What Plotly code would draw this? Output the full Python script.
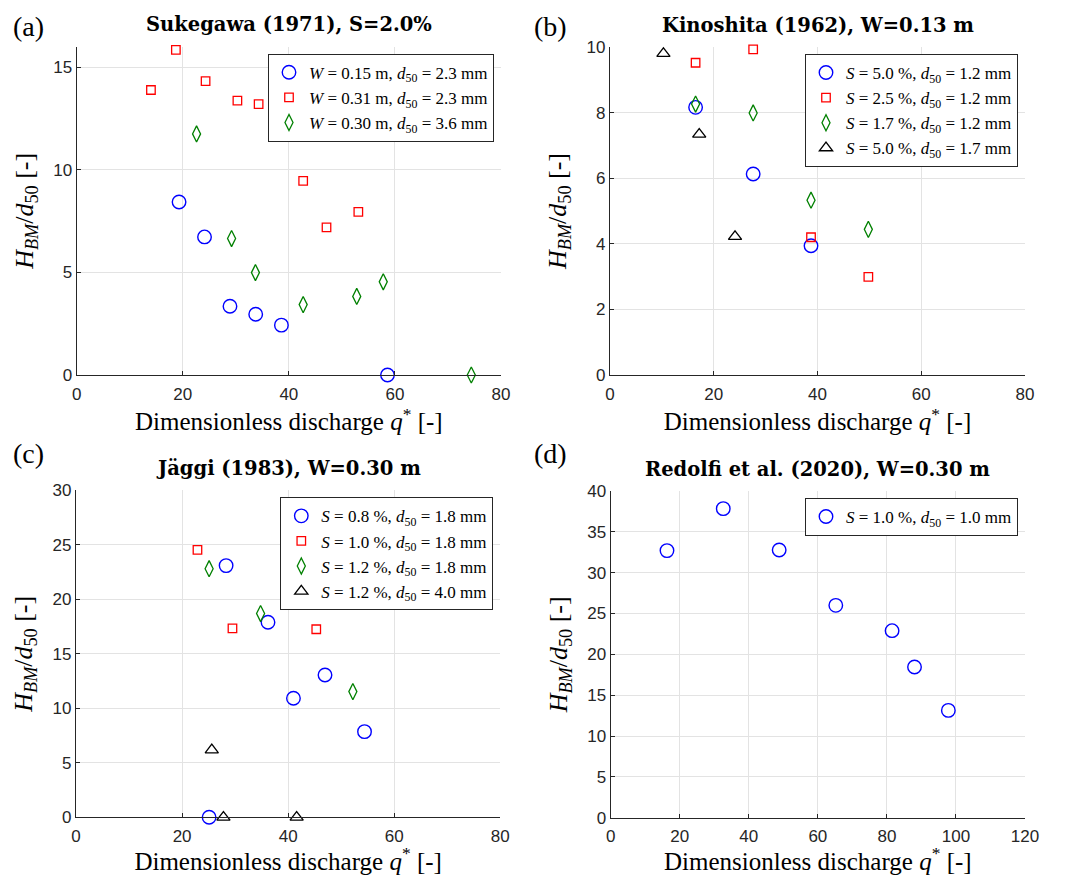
import plotly.graph_objects as go

# ---------------- data ----------------
# (a) Sukegawa (1971), S=2.0%
a_q_w015 = [19.3, 24.1, 28.9, 33.75, 38.6, 58.6]
a_h_w015 = [8.43, 6.73, 3.35, 2.96, 2.43, 0.0]
a_q_w031 = [14.0, 18.7, 24.3, 30.3, 34.3, 42.7, 47.1, 53.1]
a_h_w031 = [13.89, 15.85, 14.32, 13.37, 13.2, 9.46, 7.19, 7.95]
a_q_w030 = [22.6, 29.2, 33.7, 42.7, 52.8, 57.8, 74.4]
a_h_w030 = [11.75, 6.65, 4.99, 3.43, 3.83, 4.54, 0.0]

# (b) Kinoshita (1962), W=0.13 m
b_q_s50 = [16.5, 27.6, 38.75]
b_h_s50 = [8.16, 6.13, 3.94]
b_q_s25 = [16.5, 27.6, 38.75, 49.8]
b_h_s25 = [9.52, 9.93, 4.2, 2.99]
b_q_s17 = [16.5, 27.6, 38.75, 49.8]
b_h_s17 = [8.26, 7.99, 5.33, 4.44]
b_q_s50b = [10.3, 17.2, 24.1]
b_h_s50b = [9.8, 7.34, 4.22]

# (c) Jäggi (1983), W=0.30 m
c_q_s08 = [28.3, 36.2, 41.0, 46.95, 54.4, 25.1]
c_h_s08 = [23.09, 17.89, 10.92, 13.06, 7.86, 0.0]
c_q_s10 = [22.9, 29.5, 45.3]
c_h_s10 = [24.53, 17.34, 17.25]
c_q_s12 = [25.1, 34.8, 52.2]
c_h_s12 = [22.81, 18.69, 11.53]
c_q_s12b = [25.6, 27.8, 41.6]
c_h_s12b = [6.18, 0.0, 0.0]

# (d) Redolfi et al. (2020), W=0.30 m
d_q_s10 = [16.3, 32.6, 48.8, 65.2, 81.5, 88.0, 97.8]
d_h_s10 = [32.7, 37.84, 32.78, 26.0, 22.9, 18.45, 13.14]

# legend labels
a_labels = ["<i>W</i> = 0.15 m, <i>d</i><sub>50</sub> = 2.3 mm",
            "<i>W</i> = 0.31 m, <i>d</i><sub>50</sub> = 2.3 mm",
            "<i>W</i> = 0.30 m, <i>d</i><sub>50</sub> = 3.6 mm"]
b_labels = ["<i>S</i> = 5.0 %, <i>d</i><sub>50</sub> = 1.2 mm",
            "<i>S</i> = 2.5 %, <i>d</i><sub>50</sub> = 1.2 mm",
            "<i>S</i> = 1.7 %, <i>d</i><sub>50</sub> = 1.2 mm",
            "<i>S</i> = 5.0 %, <i>d</i><sub>50</sub> = 1.7 mm"]
c_labels = ["<i>S</i> = 0.8 %, <i>d</i><sub>50</sub> = 1.8 mm",
            "<i>S</i> = 1.0 %, <i>d</i><sub>50</sub> = 1.8 mm",
            "<i>S</i> = 1.2 %, <i>d</i><sub>50</sub> = 1.8 mm",
            "<i>S</i> = 1.2 %, <i>d</i><sub>50</sub> = 4.0 mm"]
d_labels = ["<i>S</i> = 1.0 %, <i>d</i><sub>50</sub> = 1.0 mm"]

titles = ["Sukegawa (1971), S=2.0%", "Kinoshita (1962), W=0.13 m",
          "Jäggi (1983), W=0.30 m", "Redolfi et al. (2020), W=0.30 m"]
panel_tags = ["(a)", "(b)", "(c)", "(d)"]

# ---------------- styles ----------------
BLUE = "#0000ff"
RED = "#ff0000"
GREEN = "#008000"
BLACK = "#000000"
SERIF = "Liberation Serif"
SANS = "Liberation Sans"
AXC = "#262626"

sty = {
    "circle": dict(symbol="circle-open", size=13.5, color=BLUE, line=dict(width=1.4, color=BLUE)),
    "square": dict(symbol="square-open", size=8.5, color=RED, line=dict(width=1.3, color=RED)),
    "diamond": dict(symbol="diamond-tall-open", size=11.5, color=GREEN, line=dict(width=1.3, color=GREEN)),
    "triangle": dict(symbol="triangle-up-open", size=11.5, color=BLACK, line=dict(width=1.3, color=BLACK)),
}

OFF = 8  # page body margin
W, H = 1071 - OFF, 875 - OFF
# plot areas in reference pixels: (left, right, top, bottom)
areas = [(76.7, 501.0, 46.7, 375.0),
         (610.0, 1025.0, 47.0, 375.0),
         (76.0, 500.3, 490.3, 817.3),
         (610.7, 1025.0, 491.0, 817.7)]
xranges = [[0, 80], [0, 80], [0, 80], [0, 120]]
yranges = [[0, 16], [0, 10], [0, 30], [0, 40]]
ydticks = [5, 2, 5, 5]


def px(v):
    return (v - OFF) / W


def py(v):
    return 1 - (v - OFF) / H


fig = go.Figure()

series = [
    [(a_q_w015, a_h_w015, "circle"), (a_q_w031, a_h_w031, "square"), (a_q_w030, a_h_w030, "diamond")],
    [(b_q_s50, b_h_s50, "circle"), (b_q_s25, b_h_s25, "square"), (b_q_s17, b_h_s17, "diamond"),
     (b_q_s50b, b_h_s50b, "triangle")],
    [(c_q_s08, c_h_s08, "circle"), (c_q_s10, c_h_s10, "square"), (c_q_s12, c_h_s12, "diamond"),
     (c_q_s12b, c_h_s12b, "triangle")],
    [(d_q_s10, d_h_s10, "circle")],
]
labels = [a_labels, b_labels, c_labels, d_labels]

for i in range(4):
    ax = "" if i == 0 else str(i + 1)
    leg = "legend" if i == 0 else "legend%d" % (i + 1)
    for (xs, ys, m), lab in zip(series[i], labels[i]):
        fig.add_trace(go.Scatter(x=xs, y=ys, mode="markers", name=lab, marker=sty[m],
                                 xaxis="x" + ax, yaxis="y" + ax, legend=leg, cliponaxis=False))

layout = dict(width=W, height=H, margin=dict(l=0, r=0, t=0, b=0),
              paper_bgcolor="white", plot_bgcolor="white", showlegend=True)

annotations = []
for i in range(4):
    ax = "" if i == 0 else str(i + 1)
    l, r, t, b = areas[i]
    common = dict(showgrid=True, gridcolor="#e3e3e3", gridwidth=1, zeroline=False,
                  showline=True, linecolor=AXC, linewidth=1.2, ticks="inside", ticklen=4,
                  tickcolor=AXC, tickfont=dict(family=SANS, size=17, color=AXC),
                  automargin=False, fixedrange=True)
    layout["xaxis" + ax] = dict(common, domain=[px(l), px(r)], range=xranges[i], dtick=20,
                                anchor="y" + ax, ticklabelstandoff=3,
                                title=dict(text="Dimensionless discharge <i>q</i><sup>*</sup> [-]",
                                           font=dict(family=SERIF, size=25, color="black"), standoff=6))
    layout["yaxis" + ax] = dict(common, domain=[py(b), py(t)], range=yranges[i], dtick=ydticks[i],
                                anchor="x" + ax,
                                title=dict(text="<i>H</i><sub><i>BM</i></sub>/<i>d</i><sub>50</sub> [-]",
                                           font=dict(family=SERIF, size=26, color="black"), standoff=12))
    leg = "legend" if i == 0 else "legend%d" % (i + 1)
    layout[leg] = dict(x=px(r - 7), xanchor="right", y=py(t + 7), yanchor="top",
                       bgcolor="white", bordercolor=AXC, borderwidth=1,
                       font=dict(family=SERIF, size=17, color="black"), itemwidth=30,
                       tracegroupgap=0)
    # panel title
    annotations.append(dict(text="<b>%s</b>" % titles[i], x=px((l + r) / 2), y=py(t - 22),
                            xref="paper", yref="paper", xanchor="center", yanchor="middle",
                            showarrow=False, font=dict(family="DejaVu Serif", size=19.5, color="black")))
    # panel tag
    tag_x = 11 if i % 2 == 0 else 532
    if i < 2:
        annotations.append(dict(text=panel_tags[i], x=px(tag_x), y=py(9),
                                xref="paper", yref="paper", xanchor="left", yanchor="top",
                                showarrow=False, font=dict(family=SERIF, size=28, color="black")))
    else:
        annotations.append(dict(text=panel_tags[i], x=px(tag_x), y=py(453),
                                xref="paper", yref="paper", xanchor="left", yanchor="middle",
                                showarrow=False, font=dict(family=SERIF, size=28, color="black")))

layout["annotations"] = annotations
fig.update_layout(**layout)
fig.write_html("out.html")
